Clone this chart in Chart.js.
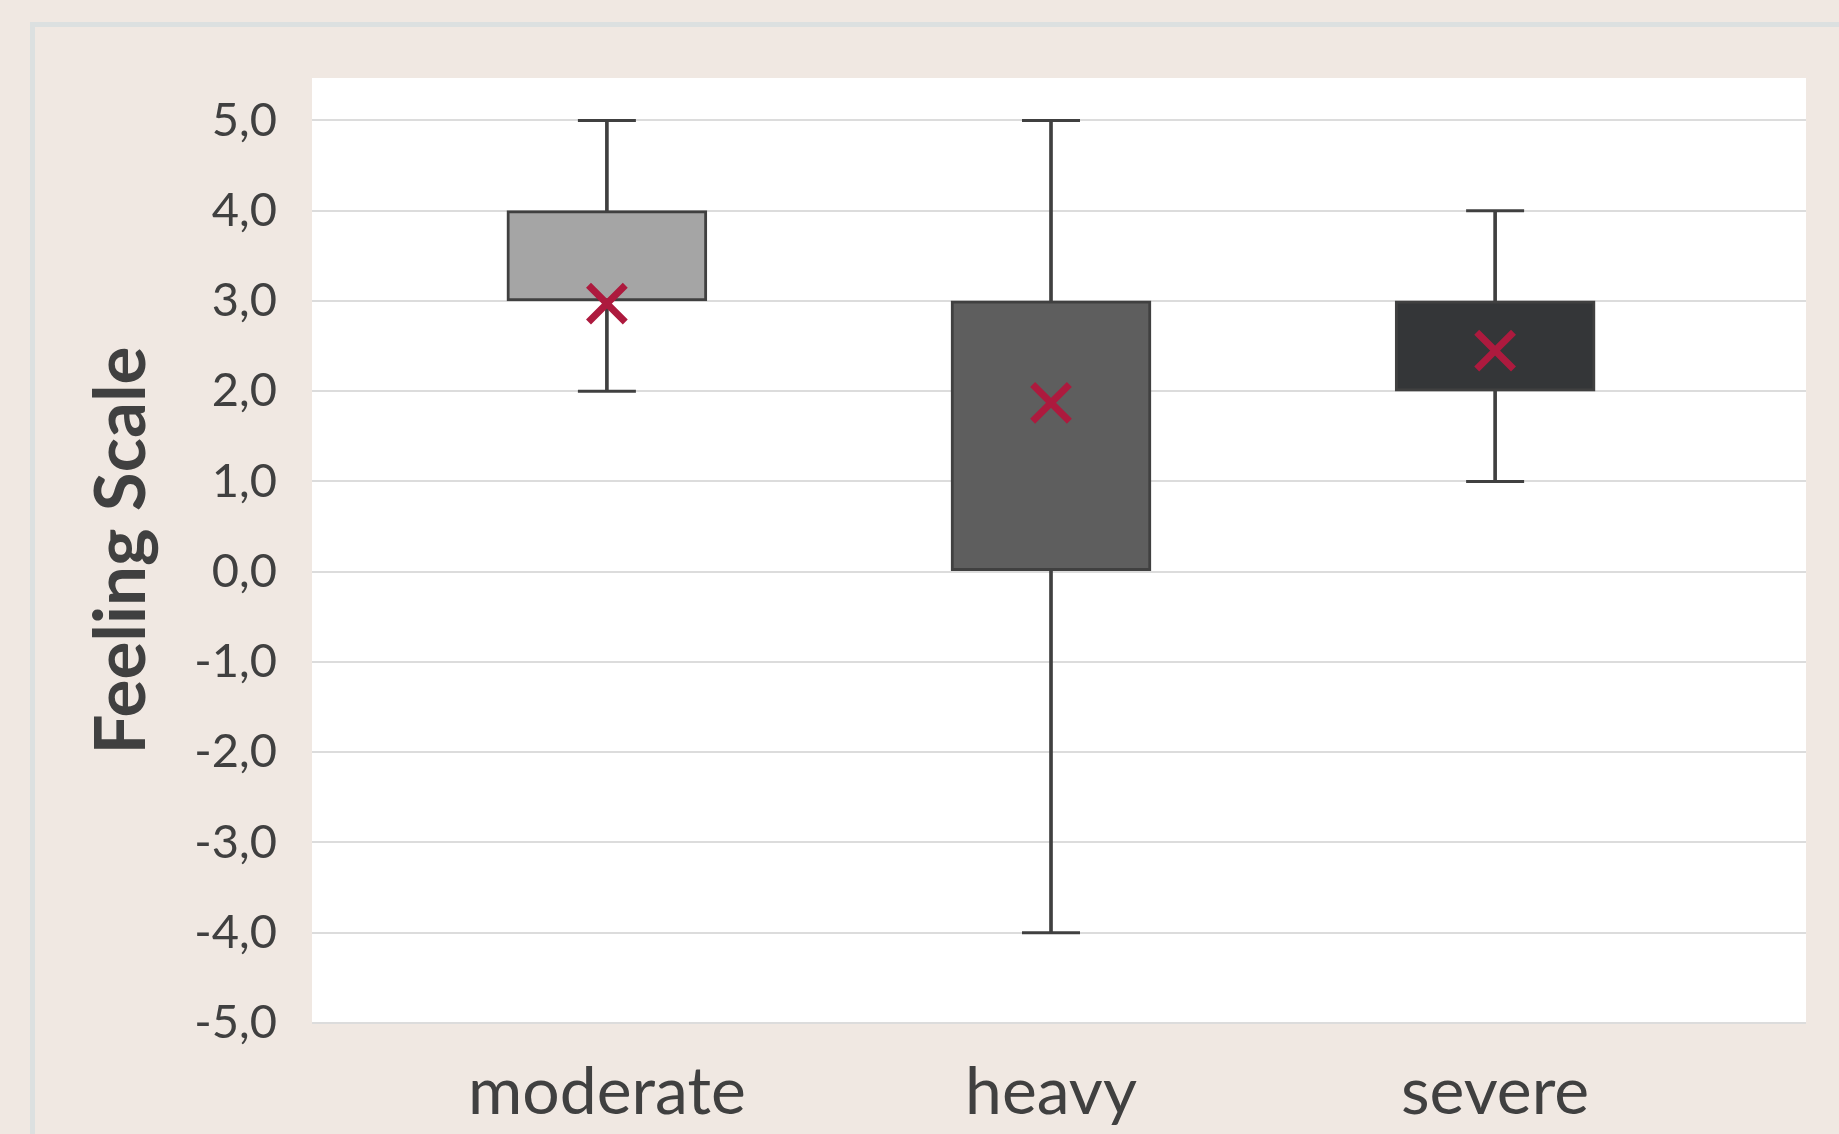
<!DOCTYPE html>
<html>
<head>
<meta charset="utf-8">
<script src="https://cdn.jsdelivr.net/npm/chart.js@4"></script>
<style>
  html, body { margin: 0; padding: 0; background: #f0e8e2; overflow: hidden; }
  #frame {
    position: absolute; left: 30px; top: 22px; width: 1900px; height: 1200px;
    border-left: 5px solid #dce0e0; border-top: 5px solid #dce0e0;
  }
  #grafico { position: absolute; left: 0; top: 0; }
</style>
</head>
<body>
<div id="frame"></div>
<canvas id="grafico" width="1839" height="1134"></canvas>
<script>
// box plot: feeling scale by intensity
const categories = ['moderate', 'heavy', 'severe'];
const whiskerMin = [2, -4, 1];
const whiskerMax = [5, 5, 4];
const q1 = [3, 0, 2];
const q3 = [4, 3, 3];
const means = [2.97, 1.87, 2.45];
const yTicks = [-5, -4, -3, -2, -1, 0, 1, 2, 3, 4, 5];
const boxColors = ['#a5a5a5', '#5e5e5e', '#343638'];

const lineColor = '#404040';

const plotBg = {
  id: 'plotBg',
  beforeDraw(chart) {
    const { ctx, chartArea: a } = chart;
    ctx.save();
    ctx.fillStyle = '#ffffff';
    ctx.fillRect(a.left, a.top, a.right - a.left, a.bottom - a.top);
    ctx.restore();
  }
};

const ctx = document.getElementById('grafico').getContext('2d');

new Chart(ctx, {
  data: {
    datasets: [
      {
        type: 'bar',
        label: 'whisker',
        data: categories.map((c, i) => ({ x: i, y: [whiskerMin[i], whiskerMax[i]] })),
        backgroundColor: lineColor,
        barThickness: 3,
        grouped: false,
        order: 3
      },
      {
        type: 'bar',
        label: 'box',
        data: categories.map((c, i) => ({ x: i, y: [q1[i], q3[i]] })),
        backgroundColor: boxColors,
        borderColor: lineColor,
        borderWidth: 3,
        borderSkipped: false,
        barThickness: 200,
        grouped: false,
        order: 2
      },
      {
        type: 'scatter',
        label: 'caps',
        data: categories.flatMap((c, i) => [{ x: i, y: whiskerMin[i] }, { x: i, y: whiskerMax[i] }]),
        pointStyle: 'line',
        radius: 29,
        borderWidth: 3,
        borderColor: lineColor,
        order: 1
      },
      {
        type: 'scatter',
        label: 'mean',
        data: categories.map((c, i) => ({ x: i, y: means[i] })),
        pointStyle: 'crossRot',
        radius: 26,
        borderWidth: 7,
        borderColor: '#ad1a3e',
        order: 0
      }
    ]
  },
  options: {
    responsive: false,
    animation: false,
    devicePixelRatio: 1,
    layout: { padding: { left: 0, top: 78, right: 33, bottom: 0 } },
    plugins: {
      legend: { display: false },
      tooltip: { enabled: false }
    },
    scales: {
      x: {
        type: 'linear',
        offset: false,
        min: -0.664,
        max: 2.70,
        afterBuildTicks: (s) => { s.ticks = categories.map((c, i) => ({ value: i })); },
        afterFit: (s) => { s.height = 111; },
        grid: { display: false, drawTicks: false, offset: false },
        border: { display: false },
        ticks: {
          padding: 30,
          color: '#404040',
          font: { family: 'Lato', size: 66 },
          callback: (v) => categories[v]
        }
      },
      y: {
        min: -5,
        max: 5.47,
        afterBuildTicks: (s) => { s.ticks = yTicks.map(v => ({ value: v })); },
        afterFit: (s) => { s.width = 312; },
        grid: { color: '#dcdcdc', lineWidth: 2, drawTicks: false },
        border: { display: false },
        ticks: {
          padding: 35,
          color: '#404040',
          font: { family: 'Lato', size: 47 },
          callback: (v) => v.toFixed(1).replace('.', ',')
        },
        title: {
          display: true,
          text: 'Feeling Scale',
          color: '#404040',
          padding: { top: 80, bottom: 0 },
          font: { family: 'Lato', size: 71, weight: 'bold' }
        }
      }
    }
  },
  plugins: [plotBg]
});
</script>
</body>
</html>
